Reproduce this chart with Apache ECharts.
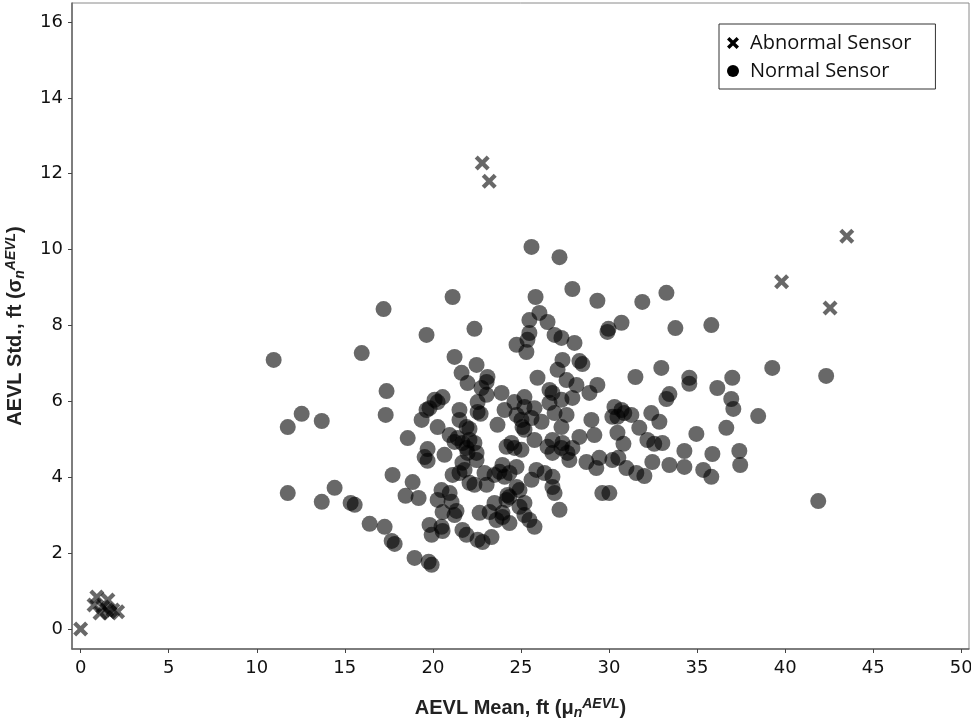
<!DOCTYPE html>
<html>
<head>
<meta charset="utf-8">
<script src="https://cdn.jsdelivr.net/npm/echarts@6/dist/echarts.min.js"></script>
<style>
html,body{margin:0;padding:0;background:#fff;}
#chart{width:971px;height:724px;}
</style>
</head>
<body>
<div id="chart"></div>
<script>
// Tick labels
var xTicks = [0, 5, 10, 15, 20, 25, 30, 35, 40, 45, 50];
var yTicks = [0, 2, 4, 6, 8, 10, 12, 14, 16];

// Abnormal sensors: AEVL mean (ft) and std (ft)
var abnormalMean = [0.0, 0.92, 1.55, 1.26, 1.49, 1.83, 2.10, 1.10, 1.66, 0.76, 22.8, 23.2, 39.8, 42.55, 43.5];
var abnormalStd  = [0.0, 0.84, 0.76, 0.58, 0.50, 0.50, 0.45, 0.42, 0.42, 0.63, 12.28, 11.8, 9.15, 8.46, 10.35];

// Normal sensors: AEVL mean (ft)
var normalMean = [
 10.96,11.76,11.76,12.55,13.69,13.69,14.42,15.33,15.56,15.96,16.41,17.20,17.37,17.32,17.26,17.71,17.66,17.83,18.57,18.45,
 18.85,18.96,19.19,19.64,19.70,19.53,19.70,19.76,19.93,19.64,19.36,19.81,
 21.12,22.36,21.23,22.48,21.63,23.10,23.05,21.97,22.76,23.90,23.05,20.55,20.10,20.27,22.54,21.51,22.54,22.71,
 24.07,21.51,20.27,21.91,22.08,23.67,20.95,21.40,21.23,21.68,22.08,22.36,
 20.66,21.91,21.97,22.48,22.48,21.68,21.80,21.51,21.12,22.08,22.36,22.93,23.05,23.50,23.78,24.07,20.49,20.95,
 21.06,20.27,20.55,21.23,21.34,19.81,19.93,20.49,20.55,21.68,21.91,22.54,22.82,23.33,22.65,23.22,23.50,23.61,
 23.95,24.24,
 25.48,25.37,26.91,27.30,28.04,24.75,25.31,29.91,27.36,28.32,28.49,27.08,25.94,27.59,28.15,29.34,26.62,26.79,
 28.89,25.20,27.30,27.92,24.63,25.20,26.62,25.77,30.31,30.71,30.87,26.91,27.59,25.60,24.75,25.03,26.17,29.00,
 30.19,30.48,25.09,25.20,27.30,28.32,29.17,30.48,25.77,24.46,26.79,27.36,
 24.18,24.63,25.03,26.51,26.79,27.30,27.64,27.75,27.92,28.72,29.45,29.28,30.19,30.99,23.95,24.75,25.88,26.34,
 26.79,24.35,25.60,26.79,26.91,24.75,24.92,24.35,24.18,25.20,24.92,29.62,30.02,27.19,23.95,24.35,25.48,25.77,25.20,
 25.60,27.19,27.92,25.83,29.34,31.89,33.26,26.05,25.48,26.51,30.71,29.97,33.77,35.81,32.97,39.27,31.50,34.56,
 34.56,37.00,36.15,33.43,33.26,36.94,37.06,38.47,42.33,31.27,32.40,32.86,
 36.66,34.96,34.28,34.28,35.87,37.40,37.45,35.35,35.81,41.88,
 31.72,32.57,33.03,33.43,32.46,32.01,30.53,31.55,32.18,30.82
];
// Normal sensors: AEVL std (ft)
var normalStd = [
 7.09,5.32,3.58,5.67,5.48,3.35,3.72,3.32,3.27,7.27,2.77,8.43,6.27,5.64,2.69,4.06,2.32,2.24,5.03,3.51,
 3.87,1.87,3.45,7.75,4.74,4.53,4.43,1.77,1.69,5.77,5.51,5.82,
 8.75,7.91,7.17,6.96,6.75,6.64,6.51,6.48,6.35,6.22,6.17,6.11,6.04,5.98,5.98,5.77,5.72,5.67,
 5.77,5.51,5.32,5.32,5.27,5.38,5.11,5.03,4.93,4.90,4.98,4.90,
 4.59,4.77,4.64,4.64,4.45,4.38,4.19,4.11,4.06,3.85,3.80,4.11,3.80,4.06,4.14,4.01,3.66,3.58,
 3.35,3.40,3.08,3.00,3.11,2.74,2.48,2.69,2.58,2.61,2.48,2.35,2.29,2.42,3.06,3.08,3.32,2.87,
 3.06,3.53,
 7.80,7.62,7.75,7.67,7.54,7.49,7.30,7.83,7.09,7.06,6.98,6.83,6.62,6.56,6.43,6.43,6.30,6.22,
 6.22,6.11,6.04,6.09,5.98,5.85,5.96,5.82,5.85,5.77,5.69,5.69,5.64,5.56,5.64,5.51,5.46,5.51,
 5.59,5.59,5.32,5.25,5.32,5.06,5.11,5.17,4.98,4.90,4.98,4.90,
 4.80,4.77,4.72,4.80,4.64,4.77,4.64,4.45,4.77,4.40,4.51,4.24,4.45,4.24,4.32,4.27,4.19,4.11,
 4.01,4.11,3.93,3.74,3.58,3.74,3.66,3.48,3.40,3.32,3.22,3.58,3.58,3.14,2.95,2.79,2.87,2.69,3.00,
 10.07,9.80,8.96,8.75,8.65,8.62,8.86,8.33,8.14,8.09,8.07,7.91,7.93,8.01,6.88,6.88,6.64,6.62,
 6.46,6.62,6.35,6.19,6.06,6.06,5.80,5.61,6.67,5.64,5.69,5.46,
 5.30,5.14,4.69,4.27,4.61,4.69,4.32,4.19,4.01,3.37,
 5.30,4.88,4.90,4.32,4.40,4.03,4.51,4.11,4.98,4.88
];

function pairs(xs, ys) {
  var out = [];
  for (var i = 0; i < Math.min(xs.length, ys.length); i++) out.push([xs[i], ys[i]]);
  return out;
}

var crossPath = 'path://M2,0 L5,3 L8,0 L10,2 L7,5 L10,8 L8,10 L5,7 L2,10 L0,8 L3,5 L0,2 Z';
var markColor = 'rgba(0,0,0,0.74)';
var titleFont = 'Liberation Sans, Arial, sans-serif';
var tickFont = 'DejaVu Sans, sans-serif';
var nameRich = {
  b: {fontFamily: titleFont, fontWeight: 'bold', fontSize: 20, color: '#222', lineHeight: 28, verticalAlign: 'middle'},
  sub: {fontFamily: titleFont, fontWeight: 'bold', fontStyle: 'italic', fontSize: 14, color: '#222', lineHeight: 28, verticalAlign: 'bottom', padding: [0,0,2,0]},
  sup: {fontFamily: titleFont, fontWeight: 'bold', fontStyle: 'italic', fontSize: 14, color: '#222', lineHeight: 28, verticalAlign: 'top', padding: [3,0,0,0]}
};

var chart = echarts.init(document.getElementById('chart'), null, {renderer: 'canvas'});
chart.setOption({
  animation: false,
  backgroundColor: '#fff',
  grid: {left: 72, right: 2, top: 3, bottom: 75, show: true, borderColor: '#8a8a8a', borderWidth: 1,
         containLabel: false, outerBoundsMode: 'none'},
  legend: {
    orient: 'vertical', left: 719, top: 24,
    backgroundColor: '#fff', borderColor: '#333', borderWidth: 1,
    padding: [9, 24, 8, 8], itemGap: 8, itemWidth: 12, itemHeight: 12,
    textStyle: {fontFamily: 'Open Sans, sans-serif', fontSize: 20, color: '#111', padding: [0, 0, 0, 6]},
    data: [
      {name: 'Abnormal Sensor', icon: crossPath, itemStyle: {color: '#000', opacity: 1}},
      {name: 'Normal Sensor', icon: 'circle', itemStyle: {color: '#000', opacity: 1}}
    ]
  },
  xAxis: {
    type: 'value', min: -0.49, max: 50.44,
    splitLine: {show: false},
    axisLine: {show: true, onZero: false, lineStyle: {color: '#666', width: 1.5}},
    axisTick: {show: true, length: 4, customValues: xTicks, lineStyle: {color: '#444'}},
    axisLabel: {customValues: xTicks, margin: 10, fontFamily: tickFont, fontSize: 18, color: '#111'},
    name: '{b|AEVL Mean, ft (μ}{sub|n}{sup|AEVL}{b|)}',
    nameLocation: 'middle', nameGap: 45,
    nameTextStyle: {rich: nameRich}
  },
  yAxis: {
    type: 'value', min: -0.53, max: 16.5,
    splitLine: {show: false},
    axisLine: {show: true, onZero: false, lineStyle: {color: '#666', width: 1.5}},
    axisTick: {show: true, length: 4, customValues: yTicks, lineStyle: {color: '#444'}},
    axisLabel: {customValues: yTicks, margin: 9, fontFamily: tickFont, fontSize: 18, color: '#111'},
    name: '{b|AEVL Std., ft (σ}{sub|n}{sup|AEVL}{b|)}',
    nameLocation: 'middle', nameGap: 38, nameRotate: 90,
    nameTextStyle: {rich: nameRich}
  },
  series: [
    {
      name: 'Abnormal Sensor', type: 'scatter', symbol: crossPath, symbolSize: 15,
      itemStyle: {color: markColor},
      data: pairs(abnormalMean, abnormalStd)
    },
    {
      name: 'Normal Sensor', type: 'scatter', symbol: 'circle', symbolSize: 16,
      itemStyle: {color: markColor},
      data: pairs(normalMean, normalStd)
    }
  ]
});
</script>
</body>
</html>
